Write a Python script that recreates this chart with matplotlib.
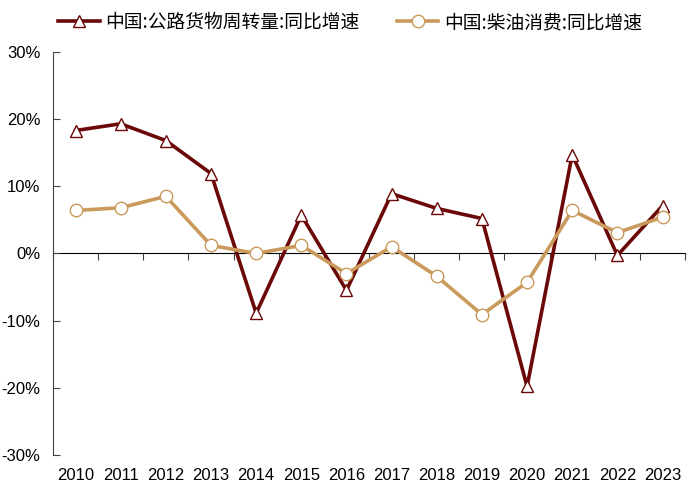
import matplotlib
matplotlib.use('Agg')
import matplotlib.pyplot as plt
import numpy as np

plt.rcParams['font.family'] = ['Noto Sans CJK SC', 'DejaVu Sans']

years = ['2010', '2011', '2012', '2013', '2014', '2015', '2016',
         '2017', '2018', '2019', '2020', '2021', '2022', '2023']
freight = [18.3, 19.3, 16.8, 11.9, -8.9, 5.7, -5.5, 8.9, 6.7, 5.2, -19.8, 14.7, -0.3, 7.1]
diesel = [6.4, 6.8, 8.5, 1.2, 0.0, 1.2, -3.0, 1.0, -3.4, -9.1, -4.3, 6.4, 3.1, 5.4]

c_red = '#6B0808'
c_tan = '#C99A5B'

fig = plt.figure(figsize=(7, 4.91), dpi=100)
ax = fig.add_axes([0.0757, 0.0733, 0.903, 0.821])

x = np.arange(len(years))
ax.plot(x, freight, color=c_red, lw=2.6, marker='^', ms=8, mfc='white',
        mec=c_red, mew=1.0, label='中国:公路货物周转量:同比增速', zorder=3)
ax.plot(x, diesel, color=c_tan, lw=2.6, marker='o', ms=9, mfc='white',
        mec=c_tan, mew=1.0, label='中国:柴油消费:同比增速', zorder=3)

ax.set_xlim(-0.5, len(years) - 0.5)
ax.set_ylim(-30, 30)
ax.set_yticks([-30, -20, -10, 0, 10, 20, 30])
ax.set_yticklabels(['-30%', '-20%', '-10%', '0%', '10%', '20%', '30%'],
                   fontsize=12, family='Liberation Sans')
ax.tick_params(axis='y', direction='in', length=5, color='#444444', pad=9)

ax.set_xticks(x)
ax.set_xticklabels(years, fontsize=12, family='Liberation Sans')
ax.tick_params(axis='x', length=0, pad=9)

for s in ['top', 'right', 'bottom']:
    ax.spines[s].set_visible(False)
ax.spines['left'].set_color('#444444')

# zero line with category separators
sec = ax.secondary_xaxis(0.5)
sec.set_xticks(np.arange(-0.5, len(years), 1.0))
sec.set_xticklabels([])
sec.tick_params(direction='in', length=5, color='#444444')
sec.spines['bottom'].set_color('#444444')

fig.legend(loc='upper center', bbox_to_anchor=(0.5, 1.01), ncol=2, frameon=False,
           fontsize=13.5, handlelength=2.2, columnspacing=2.0, handletextpad=0.3)

fig.savefig('out.png', dpi=100)
